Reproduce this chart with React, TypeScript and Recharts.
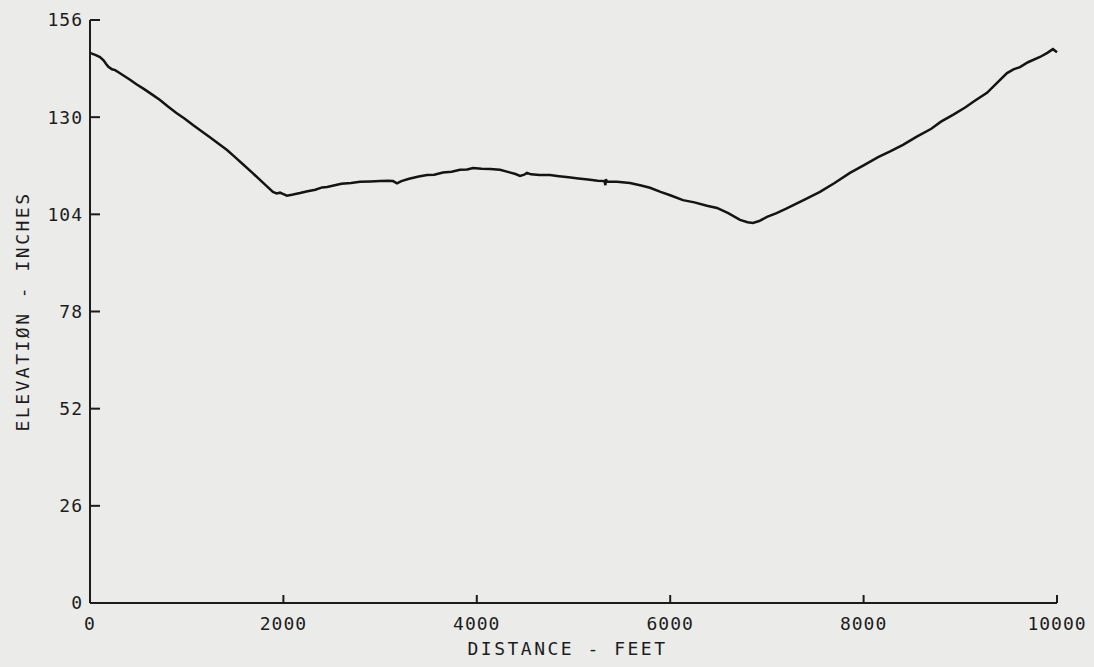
import React from 'react';
import { LineChart, Line, XAxis, YAxis } from 'recharts';

const distanceFeet: number[] = [
  0, 60, 103, 140, 165, 190, 228, 260, 290, 350, 414, 480, 560, 640, 724, 800, 890, 980, 1065, 1150,
  1240, 1330, 1417, 1500, 1590, 1680, 1758, 1830, 1892, 1930, 1965, 2000, 2037, 2100, 2172, 2250, 2330,
  2400, 2451, 2520, 2600, 2700, 2792, 2900, 3000, 3080, 3133, 3175, 3220, 3300, 3400, 3485, 3560, 3650,
  3740, 3826, 3900, 3961, 4050, 4140, 4240, 4330, 4400, 4447, 4490, 4519, 4560, 4650, 4757, 4850, 4950,
  5050, 5150, 5250, 5320, 5330, 5335, 5345, 5450, 5584, 5700, 5791, 5900, 6000, 6132, 6250, 6380, 6484,
  6600, 6722, 6800, 6856, 6920, 7001, 7100, 7200, 7300, 7400, 7549, 7700, 7859, 8000, 8150, 8280, 8407,
  8550, 8700, 8800, 8924, 9050, 9150, 9276, 9380, 9483, 9550, 9617, 9700, 9824, 9900, 9958, 10000,
];

const elevationInches: number[] = [
  147.2, 146.6, 146.1, 145.2, 144.3, 143.5, 142.8, 142.6, 142.1, 141.1, 140.0, 138.8, 137.5, 136.1, 134.6,
  133.0, 131.2, 129.6, 127.9, 126.3, 124.6, 122.9, 121.2, 119.3, 117.2, 115.1, 113.2, 111.5, 110.0, 109.6,
  109.8, 109.4, 109.0, 109.3, 109.7, 110.2, 110.6, 111.2, 111.3, 111.7, 112.2, 112.4, 112.7, 112.8, 112.9,
  113.0, 112.9, 112.3, 112.9, 113.5, 114.1, 114.5, 114.6, 115.2, 115.4, 115.9, 116.0, 116.4, 116.2, 116.1,
  115.9, 115.3, 114.8, 114.3, 114.6, 115.1, 114.7, 114.5, 114.5, 114.2, 113.9, 113.6, 113.3, 113.0, 112.9,
  111.8, 113.4, 112.8, 112.7, 112.4, 111.7, 111.1, 110.0, 109.1, 107.8, 107.2, 106.3, 105.7, 104.3, 102.5,
  101.9, 101.7, 102.2, 103.3, 104.3, 105.5, 106.8, 108.1, 110.0, 112.4, 115.1, 117.1, 119.3, 120.9, 122.6,
  124.8, 126.9, 128.8, 130.6, 132.6, 134.4, 136.5, 139.2, 141.8, 142.8, 143.4, 144.7, 146.1, 147.2, 148.2,
  147.4,
];

const xTicks: number[] = [0, 2000, 4000, 6000, 8000, 10000];
const yTicks: number[] = [0, 26, 52, 78, 104, 130, 156];

const data = distanceFeet.map((d, i) => ({ distance: d, elevation: elevationInches[i] }));

const INK = '#1c1c1c';
const FONT = '"DejaVu Sans Mono", monospace';

const Y_MARGIN = 7;
const X_MARGIN = 14;

const YTick = (props: any) => {
  const { x, y, payload } = props;
  const ax = x + Y_MARGIN;
  return (
    <g>
      <line x1={ax} y1={y} x2={ax + 10} y2={y} stroke={INK} strokeWidth={2} />
      <text x={x} y={y} dy="0.36em" textAnchor="end" fill={INK} fontFamily={FONT} fontSize={18} letterSpacing={1}>
        {payload.value}
      </text>
    </g>
  );
};

const XTick = (props: any) => {
  const { x, y, payload } = props;
  const ay = y - X_MARGIN;
  return (
    <g>
      <line x1={x} y1={ay} x2={x} y2={ay - 8} stroke={INK} strokeWidth={2} />
      <text x={x} y={y} dy="0.71em" textAnchor="middle" fill={INK} fontFamily={FONT} fontSize={18} letterSpacing={1}>
        {payload.value}
      </text>
    </g>
  );
};

const YTitle = (props: any) => {
  const { viewBox } = props;
  const cx = viewBox.x + 22;
  const cy = viewBox.y + viewBox.height / 2;
  return (
    <text
      x={cx}
      y={cy}
      textAnchor="middle"
      dominantBaseline="central"
      transform={`rotate(-90, ${cx}, ${cy})`}
      fill={INK}
      fontFamily={FONT}
      fontSize={18}
      letterSpacing={2.5}
    >
      ELEVATIØN - INCHES
    </text>
  );
};

const XTitle = (props: any) => {
  const { viewBox } = props;
  const cx = viewBox.x + viewBox.width / 2 - 6;
  const cy = viewBox.y + 45;
  return (
    <text x={cx} y={cy} textAnchor="middle" dominantBaseline="central" fill={INK} fontFamily={FONT} fontSize={18} letterSpacing={2.5}>
      DISTANCE - FEET
    </text>
  );
};

export default function App() {
  return (
    <div style={{ position: 'absolute', left: 0, top: 0, width: 1094, height: 667, background: '#ebebe9' }}>
      <LineChart width={1094} height={667} data={data} margin={{ top: 20, right: 37, bottom: 30, left: 0 }}>
        <XAxis
          dataKey="distance"
          type="number"
          domain={[0, 10000]}
          ticks={xTicks}
          tickSize={0}
          tickMargin={X_MARGIN}
          tickLine={false}
          axisLine={{ stroke: INK, strokeWidth: 2 }}
          tick={<XTick />}
          height={34}
          interval={0}
          label={{ content: <XTitle /> }}
        />
        <YAxis
          type="number"
          domain={[0, 156]}
          ticks={yTicks}
          tickSize={0}
          tickMargin={Y_MARGIN}
          tickLine={false}
          axisLine={{ stroke: INK, strokeWidth: 2 }}
          tick={<YTick />}
          width={90}
          interval={0}
          label={{ content: <YTitle /> }}
        />
        <Line
          type="linear"
          dataKey="elevation"
          stroke="#141414"
          strokeWidth={2.5}
          dot={false}
          isAnimationActive={false}
        />
      </LineChart>
    </div>
  );
}
